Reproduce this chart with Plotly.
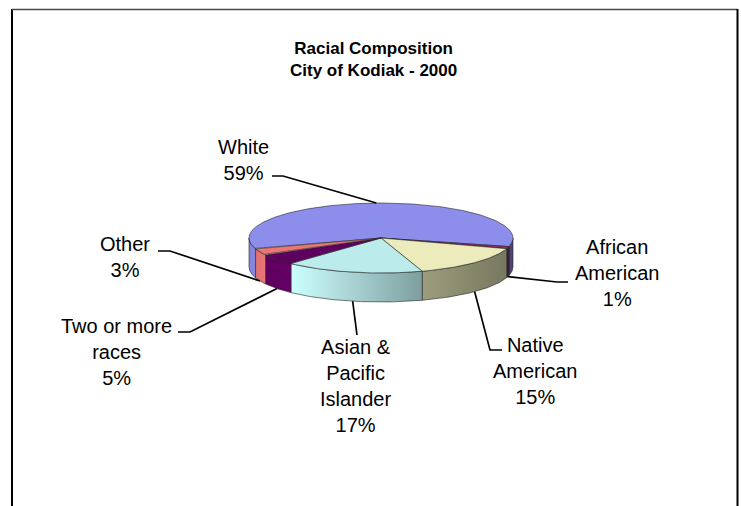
import numpy as np
import plotly.graph_objects as go

# --- data -------------------------------------------------------------
categories = ["White", "African American", "Native American",
              "Asian & Pacific Islander", "Two or more races", "Other"]
label_lines = ["White", "African<br>American", "Native<br>American",
               "Asian &<br>Pacific<br>Islander", "Two or more<br>races", "Other"]
shares = [59, 1, 15, 17, 5, 3]

title_lines = ["Racial Composition", "City of Kodiak - 2000"]

# --- styling ----------------------------------------------------------
base_colors = ["#9999FF", "#993366", "#FFFFCC", "#CCFFFF", "#660066", "#FF8080"]
W, H = 741, 506
CX, CY, RX, RY, DEPTH = 381, 238, 132, 35, 29   # pixel geometry of the tilted pie
ROTATION = 251.8                                 # angle of first slice, clockwise from back
FONT = "Liberation Sans, Arial, sans-serif"
EDGE = dict(color="rgba(35,35,35,0.85)", width=0.7)

# label centres and leader elbows (pixel space)
label_pos = [(243, 160), (617, 273), (535, 371), (355, 386), (116, 352), (125, 257)]
leader_elbows = [
    [(272, 176), (283, 176)],
    [(568, 282), (557, 282)],
    [(502, 350), (490, 350)],
    [(357, 335)],
    [(178, 332), (190, 332)],
    [(158, 251), (170, 251)],
]


def hex_rgb(c):
    c = c.lstrip("#")
    return [int(c[i:i + 2], 16) for i in (0, 2, 4)]


def shade(c, f):
    r, g, b = (min(255, max(0, int(round(v * f)))) for v in hex_rgb(c))
    return f"rgb({r},{g},{b})"


def rim(theta_deg, drop=0.0):
    t = np.radians(theta_deg)
    return CX + RX * np.sin(t), CY - RY * np.cos(t) + drop


# lighting across the front wall: u = -1 (left edge) .. 1 (right edge)
def light(x):
    u = (np.asarray(x) - CX) / RX
    return np.interp(u, [-1.0, -0.67, 0.36, 1.0], [0.86, 1.0, 0.6, 0.46])


total = float(sum(shares))
bounds = []
acc = 0.0
for v in shares:
    a = ROTATION + 360.0 * acc / total
    acc += v
    b = ROTATION + 360.0 * acc / total
    bounds.append((a, b))

fig = go.Figure()

# front walls of the cylinder (only the part facing the viewer)
for (a, b), col in zip(bounds, base_colors):
    for off in (-360, 0, 360):
        lo, hi = max(a, 90 + off), min(b, 270 + off)
        if hi <= lo:
            continue
        th = np.linspace(lo, hi, 80)
        xt, yt = rim(th)
        xb, yb = rim(th[::-1], DEPTH)
        xs = np.concatenate([xt, xb, xt[:1]])
        ys = np.concatenate([yt, yb, yt[:1]])
        x0, x1 = xs.min(), xs.max()
        stops = np.linspace(0, 1, 7)
        scale = [[float(s), shade(col, float(light(x0 + s * (x1 - x0))))] for s in stops]
        fig.add_trace(go.Scatter(
            x=xs, y=ys, mode="lines", fill="toself",
            fillgradient=dict(type="horizontal", colorscale=scale),
            line=EDGE, hoverinfo="skip", showlegend=False))

# top faces
for (a, b), col, name in zip(bounds, base_colors, categories):
    th = np.linspace(a, b, max(8, int((b - a) * 2)))
    xr, yr = rim(th)
    xs = np.concatenate([[CX], xr, [CX]])
    ys = np.concatenate([[CY], yr, [CY]])
    fig.add_trace(go.Scatter(
        x=xs, y=ys, mode="lines", fill="toself", fillcolor=shade(col, 0.92),
        line=EDGE, name=name, hoverinfo="skip", showlegend=False))

# leader lines and labels
annotations = []
for (a, b), elbows, pos, txt, v in zip(bounds, leader_elbows, label_pos, label_lines, shares):
    mid = (a + b) / 2.0
    front = np.cos(np.radians(mid)) < 0
    ax, ay = rim(mid, DEPTH if front else 0.0)
    xs = [p[0] for p in elbows] + [float(ax)]
    ys = [p[1] for p in elbows] + [float(ay)]
    fig.add_trace(go.Scatter(x=xs, y=ys, mode="lines",
                             line=dict(color="black", width=1.7),
                             hoverinfo="skip", showlegend=False))
    annotations.append(dict(
        x=pos[0], y=pos[1], xref="x", yref="y", showarrow=False,
        text=f"{txt}<br>{v}%", align="center",
        xanchor="center", yanchor="middle",
        font=dict(family=FONT, size=20, color="black")))

annotations.append(dict(
    x=373, y=59, xref="x", yref="y", showarrow=False,
    text="<b>" + "<br>".join(title_lines) + "</b>", align="center",
    xanchor="center", yanchor="middle",
    font=dict(family=FONT, size=17, color="black")))

# chart frame (open at the bottom)
shapes = [
    dict(type="line", x0=12, y0=9, x1=12, y1=H + 5, line=dict(color="black", width=2)),
    dict(type="line", x0=12, y0=9.5, x1=737.5, y1=9.5, line=dict(color="#4a4a4a", width=1.6)),
    dict(type="line", x0=737.5, y0=9, x1=737.5, y1=H + 5, line=dict(color="black", width=2)),
]

fig.update_layout(
    width=W, height=H,
    margin=dict(l=0, r=0, t=0, b=0),
    paper_bgcolor="white", plot_bgcolor="white",
    xaxis=dict(range=[0, W], visible=False, fixedrange=True),
    yaxis=dict(range=[H, 0], visible=False, fixedrange=True),
    annotations=annotations, shapes=shapes,
    showlegend=False,
)

fig.write_html("out.html")
